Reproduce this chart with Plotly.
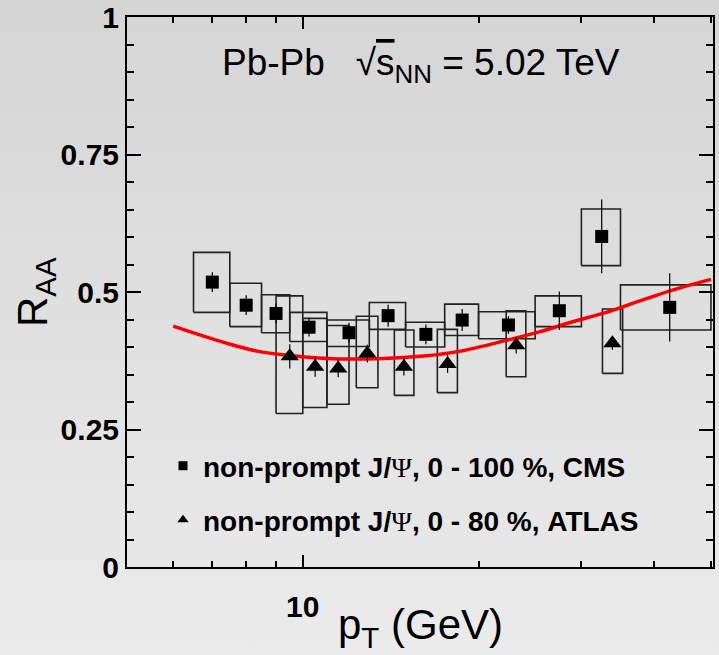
import base64
import plotly.graph_objects as go

# ---------------- data ----------------
# CMS non-prompt J/psi, 0-100 %
cms_pt = [7.0, 8.0, 9.0, 10.25, 12.0, 14.0, 16.25, 18.75, 22.5, 27.5, 32.5, 42.5]
cms_pt_lo = [6.5, 7.5, 8.5, 9.5, 11.0, 13.0, 15.0, 17.5, 20.0, 25.0, 30.0, 35.0]
cms_pt_hi = [7.5, 8.5, 9.5, 11.0, 13.0, 15.0, 17.5, 20.0, 25.0, 30.0, 35.0, 50.0]
cms_raa = [0.518, 0.476, 0.461, 0.436, 0.426, 0.457, 0.423, 0.449, 0.440, 0.466, 0.601, 0.472]
cms_stat = [0.018, 0.018, 0.018, 0.017, 0.018, 0.020, 0.018, 0.020, 0.016, 0.035, 0.067, 0.062]
cms_sys_lo = [0.463, 0.437, 0.426, 0.410, 0.401, 0.432, 0.400, 0.421, 0.415, 0.437, 0.548, 0.431]
cms_sys_hi = [0.572, 0.516, 0.495, 0.463, 0.449, 0.481, 0.445, 0.478, 0.464, 0.493, 0.651, 0.513]

# ATLAS non-prompt J/psi, 0-80 %
atl_pt = [9.5, 10.5, 11.5, 12.9, 14.9, 17.7, 23.2, 33.9]
atl_pt_lo = [9.0, 10.0, 11.0, 12.35, 14.35, 17.0, 22.3, 32.6]
atl_pt_hi = [10.0, 11.0, 12.0, 13.45, 15.5, 18.4, 24.1, 35.3]
atl_raa = [0.383, 0.364, 0.361, 0.388, 0.364, 0.369, 0.403, 0.407]
atl_stat = [0.022, 0.018, 0.016, 0.016, 0.016, 0.016, 0.015, 0.012]
atl_sys_lo = [0.279, 0.290, 0.296, 0.326, 0.312, 0.317, 0.346, 0.352]
atl_sys_hi = [0.493, 0.452, 0.439, 0.456, 0.431, 0.432, 0.466, 0.469]

# model curve
curve_pt = [6.0, 7.4, 8.4, 9.6, 11.0, 12.5, 14.3, 16.3, 18.5, 22.3, 25.5, 29.0, 33.1, 37.8, 43.1, 50.0]
curve_raa = [0.438, 0.407, 0.392, 0.384, 0.379, 0.378, 0.380, 0.384, 0.392, 0.412, 0.428, 0.446,
             0.463, 0.484, 0.504, 0.523]

# axis ticks
y_tickvals = [0, 0.25, 0.5, 0.75, 1.0]
y_ticktext = ["0", "0.25", "0.5", "0.75", "1"]
x_major_decade = 1          # labelled major tick every decade (only "10" falls in range)
x_minor = [6, 7, 8, 9, 20, 30, 40, 50]

# ---------------- layout geometry ----------------
W, H = 719, 655
ML, MR, MT, MB = 127, 6, 17, 88
PW, PH = W - ML - MR, H - MT - MB


def px_x(p):
    return (p - ML) / PW


def px_y(p):
    return (H - MB - p) / PH


def box_path(xlo, xhi, ylo, yhi):
    xs, ys = [], []
    for a, b, c, d in zip(xlo, xhi, ylo, yhi):
        xs += [a, b, b, a, a, None]
        ys += [c, c, d, d, c, None]
    return xs, ys


fig = go.Figure()

bx, by = box_path(cms_pt_lo, cms_pt_hi, cms_sys_lo, cms_sys_hi)
fig.add_trace(go.Scatter(x=bx, y=by, mode="lines", line=dict(color="#222222", width=1.6),
                         showlegend=False, hoverinfo="skip"))
bx, by = box_path(atl_pt_lo, atl_pt_hi, atl_sys_lo, atl_sys_hi)
fig.add_trace(go.Scatter(x=bx, y=by, mode="lines", line=dict(color="#222222", width=1.6),
                         showlegend=False, hoverinfo="skip"))

fig.add_trace(go.Scatter(x=curve_pt, y=curve_raa, mode="lines",
                         line=dict(color="#ff0000", width=3.5, shape="spline"),
                         showlegend=False, hoverinfo="skip"))

fig.add_trace(go.Scatter(x=cms_pt, y=cms_raa, mode="markers",
                         marker=dict(symbol="square", size=13, color="black"),
                         error_y=dict(type="data", array=cms_stat, width=0, thickness=1.2, color="black"),
                         showlegend=False))
fig.add_trace(go.Scatter(x=atl_pt, y=atl_raa, mode="markers",
                         marker=dict(symbol="triangle-up", size=16, color="black"),
                         error_y=dict(type="data", array=atl_stat, width=0, thickness=1.2, color="black"),
                         showlegend=False))

psi = "<span style='font-family:Liberation Serif;font-weight:normal'>Ψ</span>"
fig.add_trace(go.Scatter(x=[None], y=[None], mode="markers",
                         marker=dict(symbol="square", size=9, color="black"),
                         name=f"non-prompt J/{psi}, 0 - 100 %, CMS", legend="legend"))
fig.add_trace(go.Scatter(x=[None], y=[None], mode="markers",
                         marker=dict(symbol="triangle-up", size=10, color="black"),
                         name=f"non-prompt J/{psi}, 0 - 80 %, ATLAS", legend="legend2"))

# gradient background
svg = ("<svg xmlns='http://www.w3.org/2000/svg' width='10' height='100' preserveAspectRatio='none'>"
       "<defs><linearGradient id='g' x1='0' y1='0' x2='0' y2='1'>"
       "<stop offset='0' stop-color='#d5d5d5'/><stop offset='1' stop-color='#ebebeb'/>"
       "</linearGradient></defs><rect width='10' height='100' fill='url(#g)'/></svg>")
src = "data:image/svg+xml;base64," + base64.b64encode(svg.encode()).decode()

axis_common = dict(showline=True, linecolor="black", linewidth=2, mirror="allticks",
                   ticks="inside", tickcolor="black", tickwidth=1.5, showgrid=False, zeroline=False,
                   automargin=False,
                   tickfont=dict(family="Liberation Sans", size=30, color="black", weight="bold"))

leg_font = dict(family="Liberation Sans", size=28, color="black", weight="bold")

fig.update_layout(
    width=W, height=H,
    margin=dict(l=ML, r=MR, t=MT, b=MB, pad=0, autoexpand=False),
    paper_bgcolor="#e0e0e0", plot_bgcolor="rgba(0,0,0,0)",
    images=[dict(source=src, xref="paper", yref="paper", x=-ML / PW, y=1 + MT / PH,
                 sizex=W / PW, sizey=H / PH, xanchor="left", yanchor="top",
                 sizing="stretch", layer="below")],
    xaxis=dict(type="log", range=[0.699, 1.7025], tickmode="linear", tick0=0, dtick=x_major_decade,
               exponentformat="none", ticklen=12,
               minor=dict(tickvals=x_minor, ticklen=6, ticks="inside", tickcolor="black", tickwidth=1.5),
               ticklabelstandoff=12,
               **axis_common),
    yaxis=dict(range=[0, 1.0], tickvals=y_tickvals, ticktext=y_ticktext, ticklen=14,
               minor=dict(dtick=0.05, ticklen=7, ticks="inside", tickcolor="black", tickwidth=1.5),
               ticklabelstandoff=0,
               **axis_common),
    legend=dict(x=px_x(163), y=px_y(441), xanchor="left", yanchor="top",
                bgcolor="rgba(0,0,0,0)", borderwidth=0, font=leg_font),
    legend2=dict(x=px_x(163), y=px_y(495), xanchor="left", yanchor="top",
                 bgcolor="rgba(0,0,0,0)", borderwidth=0, font=leg_font),
    annotations=[
        dict(text="Pb-Pb   √<span style='text-decoration:overline'>s</span><sub>NN</sub> = 5.02 TeV",
             xref="paper", yref="paper", x=px_x(421), y=px_y(65),
             xanchor="center", yanchor="middle", showarrow=False,
             font=dict(family="Liberation Sans", size=37, color="black")),
        dict(text="p<sub>T</sub> (GeV)", xref="paper", yref="paper", x=px_x(420), y=px_y(627),
             xanchor="center", yanchor="middle", showarrow=False,
             font=dict(family="Liberation Sans", size=42, color="black")),
        dict(text="R<sub>AA</sub>", xref="paper", yref="paper", x=px_x(35), y=px_y(292),
             xanchor="center", yanchor="middle", showarrow=False, textangle=-90,
             font=dict(family="Liberation Sans", size=42, color="black")),
    ],
)

fig.write_html("out.html")
